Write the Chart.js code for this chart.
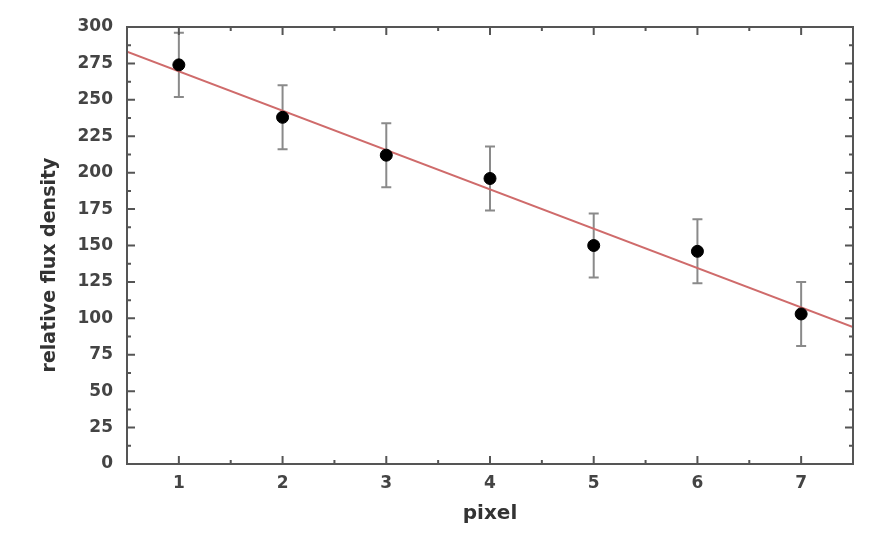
<!DOCTYPE html>
<html>
<head>
<meta charset="utf-8">
<script src="https://cdn.jsdelivr.net/npm/chart.js@4"></script>
<style>
html,body{margin:0;padding:0;background:#fff;}
#contenedor{width:871px;height:538px;}
</style>
</head>
<body>
<div id="contenedor"><canvas id="myChart"></canvas></div>
<script>

var pixeles = [1,2,3,4,5,6,7];
var flujo = [274,238,212,196,150,146,103];
var errorFlujo = [22,22,22,22,22,22,22];

// recta de ajuste (extremos del eje x)
var ajusteX = [0.5,7.5];
var ajusteY = [283,94];

var ticksX = [1,2,3,4,5,6,7];
var ticksY = [0,25,50,75,100,125,150,175,200,225,250,275,300];

var tituloX = 'pixel';
var tituloY = 'relative flux density';

var fuente = 'DejaVu Sans';

// barras de error debajo de los puntos
var barrasError = {
    id: 'barrasError',
    beforeDatasetsDraw: function(chart){
        var ctx = chart.ctx;
        var x = chart.scales.x;
        var y = chart.scales.y;
        ctx.save();
        ctx.strokeStyle = '#8a8a8a';
        ctx.lineWidth = 2;
        for(var i=0;i<pixeles.length;i++){
            var px = x.getPixelForValue(pixeles[i]);
            var arriba = y.getPixelForValue(flujo[i]+errorFlujo[i]);
            var abajo = y.getPixelForValue(flujo[i]-errorFlujo[i]);
            ctx.beginPath();
            ctx.moveTo(px,arriba); ctx.lineTo(px,abajo);
            ctx.moveTo(px-5,arriba); ctx.lineTo(px+5,arriba);
            ctx.moveTo(px-5,abajo); ctx.lineTo(px+5,abajo);
            ctx.stroke();
        }
        ctx.restore();
    }
};

// marco con marcas hacia adentro y titulos de los ejes
var marco = {
    id: 'marco',
    afterDraw: function(chart){
        var ctx = chart.ctx;
        var a = chart.chartArea;
        var x = chart.scales.x;
        var y = chart.scales.y;
        ctx.save();
        ctx.strokeStyle = '#555';
        ctx.lineWidth = 2;
        ctx.strokeRect(a.left,a.top,a.right-a.left,a.bottom-a.top);

        ctx.beginPath();
        // eje x: mayores en enteros, menores en medios
        for(var v=1;v<=7.01;v+=0.5){
            var px = x.getPixelForValue(v);
            var largo = (v%1===0) ? 8 : 4;
            ctx.moveTo(px,a.bottom); ctx.lineTo(px,a.bottom-largo);
            ctx.moveTo(px,a.top); ctx.lineTo(px,a.top+largo);
        }
        // eje y: mayores cada 25, menores cada 12.5
        for(var w=0;w<=300;w+=12.5){
            var py = y.getPixelForValue(w);
            var l = (w%25===0) ? 8 : 4;
            ctx.moveTo(a.left,py); ctx.lineTo(a.left+l,py);
            ctx.moveTo(a.right,py); ctx.lineTo(a.right-l,py);
        }
        ctx.stroke();

        ctx.fillStyle = '#333';
        ctx.textAlign = 'center';
        ctx.textBaseline = 'middle';
        ctx.font = 'bold 20px "' + fuente + '"';
        ctx.fillText(tituloX,(a.left+a.right)/2,514);
        ctx.font = 'bold 19px "' + fuente + '"';
        ctx.translate(50,265);
        ctx.rotate(-Math.PI/2);
        ctx.fillText(tituloY,0,0);
        ctx.restore();
    }
};

var ctx = document.getElementById('myChart');
var chart = new Chart(ctx, {
    type: 'scatter',
    data: {
        datasets: [{
            label: 'ajuste',
            data: ajusteX.map(function(v,i){ return {x:v,y:ajusteY[i]}; }),
            showLine: true,
            borderColor: '#cf6b6b',
            borderWidth: 2,
            pointRadius: 0,
            order: 2
        },{
            label: 'flujo',
            data: pixeles.map(function(v,i){ return {x:v,y:flujo[i]}; }),
            backgroundColor: '#000',
            borderColor: '#000',
            pointRadius: 6,
            order: 1
        }]
    },
    options: {
        responsive: true,
        maintainAspectRatio: false,
        animation: false,
        layout: { padding: { left:0, top:27, right:18, bottom:0 } },
        plugins: { legend: { display:false }, tooltip: { enabled:false } },
        scales: {
            x: {
                type: 'linear',
                min: 0.5,
                max: 7.5,
                afterBuildTicks: function(s){ s.ticks = ticksX.map(function(v){ return {value:v}; }); },
                afterFit: function(s){ s.height = 74; },
                grid: { display:false, drawTicks:false },
                border: { display:false },
                ticks: { padding: 9, color:'#444', font:{ family:fuente, size:17, weight:'bold' } }
            },
            y: {
                min: 0,
                max: 300,
                afterBuildTicks: function(s){ s.ticks = ticksY.map(function(v){ return {value:v}; }); },
                afterFit: function(s){ s.width = 127; },
                grid: { display:false, drawTicks:false },
                border: { display:false },
                ticks: { padding: 14, color:'#444', font:{ family:fuente, size:17, weight:'bold' } }
            }
        }
    },
    plugins: [barrasError, marco]
});

</script>
</body>
</html>
